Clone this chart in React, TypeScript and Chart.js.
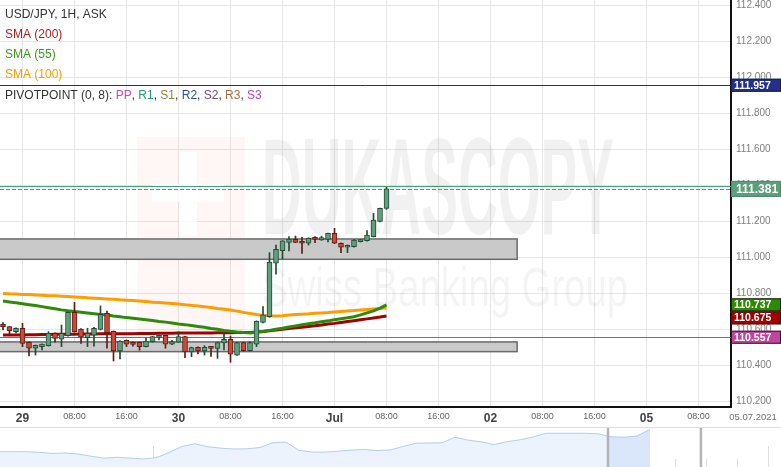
import React, { useEffect, useRef } from "react";
import { Chart, registerables } from "chart.js";
Chart.register(...registerables);

const FONT = "'Liberation Sans', Arial, sans-serif";

// ---- Hourly candles (28 Jun 21:00 .. 1 Jul 08:00), USD/JPY ----
const candleOpen = [110.629, 110.616, 110.588, 110.607, 110.529, 110.496, 110.505, 110.510, 110.579, 110.546, 110.566, 110.696, 110.603, 110.555, 110.569, 110.601, 110.690, 110.590, 110.481, 110.540, 110.518, 110.529, 110.505, 110.532, 110.556, 110.567, 110.518, 110.530, 110.560, 110.476, 110.501, 110.481, 110.501, 110.495, 110.525, 110.546, 110.458, 110.527, 110.482, 110.518, 110.639, 110.671, 110.968, 111.038, 111.084, 111.101, 111.088, 111.079, 111.107, 111.097, 111.101, 111.134, 111.079, 111.057, 111.060, 111.088, 111.093, 111.116, 111.200, 111.273];
const candleHigh = [110.638, 110.618, 110.609, 110.634, 110.531, 110.514, 110.521, 110.588, 110.581, 110.625, 110.698, 110.751, 110.605, 110.607, 110.612, 110.731, 110.703, 110.592, 110.538, 110.542, 110.532, 110.531, 110.551, 110.562, 110.569, 110.569, 110.540, 110.588, 110.562, 110.502, 110.503, 110.510, 110.503, 110.529, 110.581, 110.564, 110.529, 110.529, 110.532, 110.648, 110.727, 111.027, 111.069, 111.094, 111.116, 111.119, 111.112, 111.109, 111.116, 111.119, 111.136, 111.162, 111.081, 111.070, 111.099, 111.099, 111.149, 111.245, 111.275, 111.390];
const candleLow = [110.597, 110.566, 110.581, 110.505, 110.453, 110.458, 110.486, 110.508, 110.529, 110.505, 110.563, 110.585, 110.523, 110.505, 110.508, 110.598, 110.496, 110.425, 110.436, 110.505, 110.508, 110.485, 110.503, 110.530, 110.542, 110.496, 110.515, 110.528, 110.444, 110.449, 110.464, 110.458, 110.451, 110.440, 110.486, 110.418, 110.456, 110.480, 110.480, 110.505, 110.637, 110.668, 110.907, 110.992, 111.036, 111.082, 111.023, 111.069, 111.082, 111.095, 111.086, 111.077, 111.027, 111.027, 111.058, 111.086, 111.091, 111.114, 111.198, 111.268];
const candleClose = [110.616, 110.593, 110.607, 110.523, 110.496, 110.512, 110.519, 110.579, 110.551, 110.579, 110.696, 110.588, 110.557, 110.579, 110.607, 110.684, 110.583, 110.481, 110.536, 110.518, 110.517, 110.505, 110.536, 110.560, 110.567, 110.518, 110.533, 110.561, 110.475, 110.500, 110.481, 110.501, 110.495, 110.527, 110.546, 110.463, 110.527, 110.482, 110.527, 110.646, 110.681, 110.975, 111.046, 111.092, 111.103, 111.084, 111.079, 111.107, 111.101, 111.110, 111.134, 111.079, 111.057, 111.068, 111.097, 111.097, 111.125, 111.208, 111.273, 111.381];

// ---- Moving averages ----
const sma200 = [110.569, 110.569, 110.570, 110.570, 110.571, 110.571, 110.572, 110.572, 110.573, 110.573, 110.574, 110.574, 110.575, 110.575, 110.575, 110.576, 110.576, 110.576, 110.577, 110.577, 110.577, 110.578, 110.578, 110.578, 110.579, 110.579, 110.579, 110.580, 110.580, 110.580, 110.581, 110.581, 110.581, 110.582, 110.582, 110.582, 110.583, 110.583, 110.584, 110.586, 110.589, 110.593, 110.597, 110.601, 110.605, 110.609, 110.613, 110.617, 110.621, 110.625, 110.630, 110.634, 110.639, 110.644, 110.649, 110.654, 110.659, 110.664, 110.669, 110.675];
const sma55 = [110.758, 110.753, 110.748, 110.743, 110.738, 110.733, 110.727, 110.721, 110.715, 110.709, 110.704, 110.700, 110.696, 110.692, 110.688, 110.684, 110.680, 110.675, 110.671, 110.666, 110.662, 110.658, 110.654, 110.650, 110.645, 110.641, 110.636, 110.631, 110.627, 110.622, 110.617, 110.612, 110.606, 110.601, 110.595, 110.590, 110.586, 110.583, 110.581, 110.584, 110.589, 110.595, 110.601, 110.607, 110.614, 110.620, 110.626, 110.632, 110.637, 110.643, 110.648, 110.654, 110.660, 110.665, 110.671, 110.681, 110.692, 110.703, 110.719, 110.737];
const sma100 = [110.800, 110.798, 110.797, 110.795, 110.794, 110.792, 110.790, 110.788, 110.787, 110.785, 110.783, 110.781, 110.779, 110.776, 110.774, 110.772, 110.770, 110.768, 110.765, 110.763, 110.761, 110.758, 110.755, 110.752, 110.750, 110.747, 110.744, 110.741, 110.737, 110.734, 110.731, 110.727, 110.722, 110.717, 110.713, 110.708, 110.702, 110.695, 110.689, 110.683, 110.678, 110.676, 110.675, 110.677, 110.680, 110.683, 110.685, 110.687, 110.690, 110.692, 110.694, 110.697, 110.700, 110.703, 110.705, 110.708, 110.711, 110.714, 110.717, 110.720];

// ---- Axis ticks ----
const xTickIndex = [3, 11, 19, 27, 35, 43, 51, 59, 67, 75, 83, 91, 99, 107];
const xTickLabels = ["29", "08:00", "16:00", "30", "08:00", "16:00", "Jul", "08:00", "16:00", "02", "08:00", "16:00", "05", "08:00"];
const xTickMajor = [true, false, false, true, false, false, true, false, false, true, false, false, true, false];
const yTicks = [110.2, 110.4, 110.6, 110.8, 111.0, 111.2, 111.4, 111.6, 111.8, 112.0, 112.2, 112.4];
const cursorDate = "05.07.2021";

// ---- Pivot levels & support zones ----
const levelValues = [111.957, 111.395, 110.557];
const levelColors = ["#1f2d8a", "#3aa57a", "#c2449c"];
const priceValue = 111.381;
const zoneFrom = [-1, -1];
const zoneTo = [79.1, 79.1];
const zoneLow = [110.990, 110.477];
const zoneHigh = [111.103, 110.531];

// ---- Price tags on the right axis ----
const tagValues = [111.957, 111.381, 110.737, 110.675, 110.557];
const tagColors = ["#22308c", "#5c9f7b", "#2e8b00", "#a30000", "#c2449c"];

// ---- Navigator history ----
const navValues = [109.671, 109.671, 109.671, 109.629, 109.552, 109.580, 109.510, 109.356, 109.216, 109.279, 109.223, 109.160, 109.244, 109.615, 110.042, 110.224, 110.014, 109.916, 109.860, 109.874, 109.965, 110.315, 110.343, 109.769, 109.643, 109.643, 109.706, 109.776, 109.825, 109.755, 109.790, 110.035, 110.266, 110.280, 110.294, 110.679, 110.483, 110.364, 110.175, 110.371, 110.504, 110.700, 110.959, 110.959, 110.959, 110.959, 110.924, 110.714, 110.686, 110.770, 111.225];
const navWindow = [46.77, 50];
const navHandles = [46.77, 53.92];

const X_MIN = -0.4615;
const X_MAX = 112;
const Y_MIN = 110.1694;
const Y_MAX = 112.4306;
const NAV_X_MAX = 60.08;

const overlayPlugin = {
  id: "overlay",
  beforeDatasetsDraw(chart: any) {
    const { ctx, chartArea: a, scales } = chart;
    const xs = scales.x, ys = scales.y;
    ctx.save();
    ctx.beginPath();
    ctx.rect(a.left, a.top, a.right - a.left, a.bottom - a.top);
    ctx.clip();

    // watermark logo
    ctx.fillStyle = "rgba(225,70,50,0.045)";
    ctx.fillRect(137, 137, 108, 195);
    ctx.fillStyle = "rgba(255,255,255,0.85)";
    ctx.fillRect(179, 152, 18, 84);
    ctx.fillRect(152, 184, 72, 18);
    ctx.fillStyle = "rgba(0,0,0,0.055)";
    ctx.font = `bold 138px ${FONT}`;
    let w = ctx.measureText("DUKASCOPY").width;
    ctx.save();
    ctx.translate(262, 234);
    ctx.scale(352 / w, 1);
    ctx.textBaseline = "alphabetic";
    ctx.fillText("DUKASCOPY", 0, 0);
    ctx.restore();
    ctx.fillStyle = "rgba(0,0,0,0.045)";
    ctx.font = `56px ${FONT}`;
    w = ctx.measureText("Swiss Banking Group").width;
    ctx.save();
    ctx.translate(262, 306);
    ctx.scale(366 / w, 1);
    ctx.fillText("Swiss Banking Group", 0, 0);
    ctx.restore();

    // zones
    for (let k = 0; k < zoneLow.length; k++) {
      const x0 = Math.max(a.left - 2, xs.getPixelForValue(zoneFrom[k]));
      const x1 = xs.getPixelForValue(zoneTo[k]);
      const y0 = ys.getPixelForValue(zoneHigh[k]);
      const y1 = ys.getPixelForValue(zoneLow[k]);
      ctx.fillStyle = "#c9c9c9";
      ctx.fillRect(x0, y0, x1 - x0, y1 - y0);
      ctx.strokeStyle = "#6a6a6a";
      ctx.lineWidth = 1.5;
      ctx.strokeRect(x0, y0, x1 - x0, y1 - y0);
    }

    // pivot levels
    ctx.lineWidth = 1;
    for (let k = 0; k < levelValues.length; k++) {
      const y = Math.round(ys.getPixelForValue(levelValues[k])) + 0.5;
      ctx.strokeStyle = levelColors[k];
      ctx.beginPath();
      ctx.moveTo(a.left, y);
      ctx.lineTo(a.right, y);
      ctx.stroke();
    }
    // current price dashed
    {
      const y = Math.round(ys.getPixelForValue(priceValue)) + 0.5;
      ctx.strokeStyle = "#4f9a72";
      ctx.setLineDash([4, 2]);
      ctx.beginPath();
      ctx.moveTo(a.left, y);
      ctx.lineTo(a.right, y);
      ctx.stroke();
      ctx.setLineDash([]);
    }
    ctx.restore();
  },
  afterDraw(chart: any) {
    const { ctx, chartArea: a, scales } = chart;
    const ys = scales.y;
    ctx.save();
    // legend
    ctx.textBaseline = "middle";
    ctx.textAlign = "left";
    ctx.font = `12px ${FONT}`;
    const lines: [string, string, number][] = [
      ["USD/JPY, 1H, ASK", "#333333", 15],
      ["SMA (200)", "#b31b1b", 35],
      ["SMA (55)", "#3a9a1a", 55],
      ["SMA (100)", "#ff9a00", 75],
    ];
    for (const [t, c, y] of lines) {
      ctx.fillStyle = c;
      ctx.fillText(t, 5, y);
    }
    const piv: [string, string][] = [
      ["PIVOTPOINT (0, 8): ", "#333333"],
      ["PP", "#d04aa0"], [", ", "#333333"],
      ["R1", "#20a070"], [", ", "#333333"],
      ["S1", "#9a7a40"], [", ", "#333333"],
      ["R2", "#3050a0"], [", ", "#333333"],
      ["S2", "#705070"], [", ", "#333333"],
      ["R3", "#a07040"], [", ", "#333333"],
      ["S3", "#c040c0"],
    ];
    let px = 5;
    for (const [t, c] of piv) {
      ctx.fillStyle = c;
      ctx.fillText(t, px, 96);
      px += ctx.measureText(t).width;
    }

    // price tags
    const tags = tagValues.map((v, k) => ({ v, c: tagColors[k], big: v === priceValue, y: ys.getPixelForValue(v) }));
    tags.sort((p, q) => p.y - q.y);
    let prevBottom = -1e9;
    for (const t of tags) {
      const h = t.big ? 16 : 13;
      let top = t.y - h / 2;
      if (top < prevBottom) top = prevBottom;
      prevBottom = top + h;
      ctx.fillStyle = t.c;
      ctx.fillRect(a.right, top, 50, h);
      ctx.strokeStyle = t.big ? "#4a8d69" : "#222";
      ctx.lineWidth = 1;
      ctx.strokeRect(a.right + 0.5, top + 0.5, 49, h - 1);
      ctx.fillStyle = "#ffffff";
      ctx.font = t.big ? `bold 12px ${FONT}` : `bold 10.5px ${FONT}`;
      ctx.fillText(t.v.toFixed(3), a.right + (t.big ? 5 : 3), top + h / 2 + 0.5);
    }

    // cursor date
    ctx.fillStyle = "#707070";
    ctx.font = `9.5px ${FONT}`;
    ctx.textAlign = "center";
    ctx.fillText(cursorDate, 753, a.bottom + 10);
    ctx.restore();
  },
};

const navPlugin = {
  id: "navOverlay",
  beforeDatasetsDraw(chart: any) {
    const { ctx, chartArea: a, scales } = chart;
    const xs = scales.x;
    ctx.save();
    ctx.strokeStyle = "#dcdcdc";
    ctx.lineWidth = 1;
    const step = 30.7 / (a.right - a.left) * NAV_X_MAX;
    for (let n = 1; n * step < NAV_X_MAX; n++) {
      const x = Math.round(xs.getPixelForValue(n * step)) + 0.5;
      const tall = n % 10 === 5;
      ctx.beginPath();
      ctx.moveTo(x, tall ? a.top + 19 : a.top + 32);
      ctx.lineTo(x, a.bottom);
      ctx.stroke();
    }
    ctx.restore();
  },
  afterDatasetsDraw(chart: any) {
    const { ctx, chartArea: a, scales } = chart;
    const xs = scales.x;
    const pts = chart.getDatasetMeta(0).data;
    ctx.save();
    const w0 = xs.getPixelForValue(navWindow[0]);
    const w1 = xs.getPixelForValue(navWindow[1]);
    ctx.beginPath();
    ctx.rect(w0, a.top, w1 - w0 + 3, a.bottom - a.top);
    ctx.clip();
    ctx.beginPath();
    ctx.moveTo(pts[0].x, a.bottom);
    for (const p of pts) ctx.lineTo(p.x, p.y);
    ctx.lineTo(pts[pts.length - 1].x, a.bottom);
    ctx.closePath();
    ctx.fillStyle = "rgba(150,185,240,0.22)";
    ctx.fill();
    ctx.restore();

    ctx.save();
    ctx.strokeStyle = "#b4b4b4";
    ctx.lineWidth = 2.5;
    for (const h of navHandles) {
      const x = xs.getPixelForValue(h);
      ctx.beginPath();
      ctx.moveTo(x, a.top);
      ctx.lineTo(x, a.bottom);
      ctx.stroke();
    }
    ctx.strokeStyle = "#dddddd";
    ctx.lineWidth = 1;
    ctx.beginPath();
    ctx.moveTo(a.left, 0.5);
    ctx.lineTo(a.right, 0.5);
    ctx.stroke();
    ctx.restore();
  },
};

function mainConfig(): any {
  const idx = candleOpen.map((_, i) => i);
  const up = idx.map((i) => candleClose[i] >= candleOpen[i]);
  return {
    type: "bar",
    data: {
      datasets: [
        {
          type: "bar",
          data: idx.map((i) => ({ x: i, y: [candleOpen[i], candleClose[i]] })),
          backgroundColor: up.map((u) => (u ? "#5f9f7c" : "#c8483a")),
          borderColor: up.map((u) => (u ? "#1f4a33" : "#5b1d14")),
          borderWidth: 1,
          borderSkipped: false,
          barThickness: 5,
          minBarLength: 2,
          grouped: false,
          order: 0,
        },
        {
          type: "bar",
          data: idx.map((i) => ({ x: i, y: [candleLow[i], candleHigh[i]] })),
          backgroundColor: up.map((u) => (u ? "#1f4a33" : "#5b1d14")),
          borderWidth: 0,
          barThickness: 1,
          grouped: false,
          order: 1,
        },
        {
          type: "line",
          data: idx.map((i) => ({ x: i, y: sma55[i] })),
          borderColor: "#2e8b0a",
          borderWidth: 3,
          pointRadius: 0,
          tension: 0,
          order: 2,
        },
        {
          type: "line",
          data: idx.map((i) => ({ x: i, y: sma200[i] })),
          borderColor: "#a30000",
          borderWidth: 3,
          pointRadius: 0,
          tension: 0,
          order: 3,
        },
        {
          type: "line",
          data: idx.map((i) => ({ x: i, y: sma100[i] })),
          borderColor: "#ff9c00",
          borderWidth: 3,
          pointRadius: 0,
          tension: 0,
          order: 4,
        },
      ],
    },
    options: {
      responsive: false,
      animation: false,
      events: [],
      layout: { padding: 0 },
      plugins: { legend: { display: false }, tooltip: { enabled: false } },
      scales: {
        x: {
          type: "linear",
          position: "bottom",
          offset: false,
          min: X_MIN,
          max: X_MAX,
          afterBuildTicks: (s: any) => {
            s.ticks = xTickIndex.map((v) => ({ value: v }));
          },
          afterFit: (s: any) => {
            s.height = 20;
            s.paddingLeft = 0;
            s.paddingRight = 0;
          },
          grid: { color: "#e6e6e6", drawTicks: false, lineWidth: 1, offset: false },
          border: { color: "#111111", width: 2 },
          ticks: {
            autoSkip: false,
            maxRotation: 0,
            minRotation: 0,
            padding: 4,
            callback: (_v: any, i: number) => xTickLabels[i],
            font: (c: any) => (xTickMajor[c.index] ? { family: FONT, size: 12, weight: "bold" } : { family: FONT, size: 9 }),
            color: (c: any) => (xTickMajor[c.index] ? "#444444" : "#666666"),
          },
        },
        y: {
          type: "linear",
          position: "right",
          min: Y_MIN,
          max: Y_MAX,
          afterBuildTicks: (s: any) => {
            s.ticks = yTicks.map((v) => ({ value: v }));
          },
          afterFit: (s: any) => {
            s.width = 50;
            s.paddingTop = 0;
            s.paddingBottom = 0;
          },
          grid: { color: "#e6e6e6", drawTicks: false, lineWidth: 1 },
          border: { color: "#111111", width: 2 },
          ticks: {
            padding: 5,
            color: "#808080",
            font: { family: FONT, size: 10 },
            callback: (v: any) => Number(v).toFixed(3),
          },
        },
      },
    },
    plugins: [overlayPlugin],
  };
}

function navConfig(): any {
  return {
    type: "line",
    data: {
      datasets: [
        {
          data: navValues.map((v, k) => ({ x: k, y: v })),
          borderColor: "#b3cdf2",
          borderWidth: 1,
          backgroundColor: "#edf3fd",
          fill: "start",
          pointRadius: 0,
          tension: 0,
        },
      ],
    },
    options: {
      responsive: false,
      animation: false,
      events: [],
      layout: { padding: 0 },
      plugins: { legend: { display: false }, tooltip: { enabled: false } },
      scales: {
        x: { type: "linear", display: false, min: 0, max: NAV_X_MAX },
        y: { type: "linear", display: false, min: 108.6, max: 111.4 },
      },
    },
    plugins: [navPlugin],
  };
}

export default function App() {
  const mainRef = useRef<HTMLCanvasElement>(null);
  const navRef = useRef<HTMLCanvasElement>(null);
  useEffect(() => {
    const c1 = new Chart(mainRef.current as HTMLCanvasElement, mainConfig());
    const c2 = new Chart(navRef.current as HTMLCanvasElement, navConfig());
    return () => {
      c1.destroy();
      c2.destroy();
    };
  }, []);
  return (
    <div style={{ position: "fixed", left: 0, top: 0, width: 781, height: 467, background: "#ffffff", overflow: "hidden" }}>
      <canvas ref={mainRef} width={781} height={427} style={{ position: "absolute", left: 0, top: 0, width: 781, height: 427 }} />
      <canvas ref={navRef} width={781} height={40} style={{ position: "absolute", left: 0, top: 427, width: 781, height: 40 }} />
    </div>
  );
}
